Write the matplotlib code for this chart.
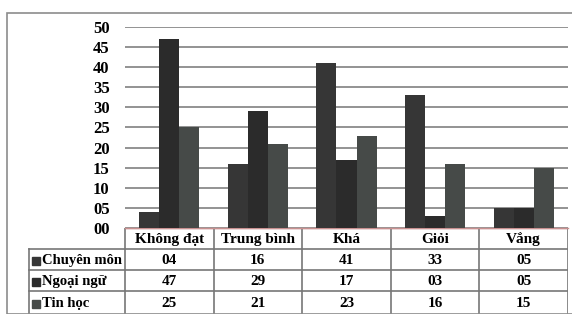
import numpy as np
import matplotlib
matplotlib.use('Agg')
import matplotlib.pyplot as plt
from matplotlib.patches import Rectangle

categories = ['Không đạt', 'Trung bình', 'Khá', 'Giỏi', 'Vắng']
series = ['Chuyên môn', 'Ngoại ngữ', 'Tin học']
chuyen_mon = [4, 16, 41, 33, 5]
ngoai_ngu = [47, 29, 17, 3, 5]
tin_hoc = [25, 21, 23, 16, 15]
yticks = [0, 5, 10, 15, 20, 25, 30, 35, 40, 45, 50]
ytick_labels = ['00', '05', '10', '15', '20', '25', '30', '35', '40', '45', '50']

colors = ['#363636', '#2b2b2b', '#464a48']
values = [chuyen_mon, ngoai_ngu, tin_hoc]

W, H = 572, 314
fig = plt.figure(figsize=(W / 100, H / 100), dpi=100)
font = dict(family='Liberation Serif', weight='bold', size=11)
nfont = dict(family='Liberation Serif', weight='bold', size=10.5)
tfont = dict(family='Liberation Serif', weight='bold', size=12)

def fx(px):
    return px / W

def fy(py):
    return 1 - py / H

# outer frame
fig.patches.append(Rectangle((fx(7), fy(314)), fx(580) - fx(7), fy(13) - fy(314),
                             transform=fig.transFigure, fill=False,
                             edgecolor='#8c8c8c', lw=1.2))

left, right, top, bottom = 125, 568, 27, 228
ax = fig.add_axes([fx(left), fy(bottom), fx(right) - fx(left), fy(top) - fy(bottom)])
n = len(categories)
x = np.arange(n) + 0.5
bw = 0.226
for k, (vals, c) in enumerate(zip(values, colors)):
    ax.bar(x + (k - 1) * bw, vals, width=bw, color=c, zorder=3, label=series[k])
ax.set_xlim(0, n)
ax.set_ylim(0, 50)
ax.set_yticks(yticks)
ax.set_yticklabels(ytick_labels, fontdict=tfont)
ax.yaxis.grid(True, color='#8a8a8a', lw=1.3, zorder=0)
ax.tick_params(axis='y', length=0, pad=11)
ax.set_xticks([])
for s in ['top', 'right', 'left']:
    ax.spines[s].set_visible(False)
ax.spines['bottom'].set_color('#c89090')
ax.spines['bottom'].set_linewidth(1.0)

# data table under the chart
tab = fig.add_axes([fx(7), 0, fx(right) - fx(7), fy(bottom)])
tab.set_xlim(7, right)
tab.set_ylim(H, bottom)
tab.axis('off')
col_w = (right - left) / n
row_y = [bottom, 249, 270, 291, 314]
lc = '#777777'
# vertical lines
for i in range(n + 1):
    tab.plot([left + i * col_w] * 2, [bottom, H], color=lc, lw=1.2)
tab.plot([29, 29], [249, H], color=lc, lw=1.2)
# horizontal lines
tab.plot([left, right], [bottom, bottom], color='#c89090', lw=1.0)
for yy in row_y[1:4]:
    tab.plot([29, right], [yy, yy], color=lc, lw=1.2)
for i, cat in enumerate(categories):
    tab.text(left + (i + 0.5) * col_w, (row_y[0] + row_y[1]) / 2 + 1, cat,
             ha='center', va='center', fontdict=font)
for r, (name, vals, c) in enumerate(zip(series, values, colors)):
    yc = (row_y[r + 1] + row_y[r + 2]) / 2 + 1
    tab.add_patch(Rectangle((32, yc - 4), 8, 8, color=c))
    tab.text(42, yc, name, ha='left', va='center', fontdict=nfont)
    for i, v in enumerate(vals):
        tab.text(left + (i + 0.5) * col_w, yc, '%02d' % v,
                 ha='center', va='center', fontdict=font)

fig.savefig('out.png', dpi=100)
